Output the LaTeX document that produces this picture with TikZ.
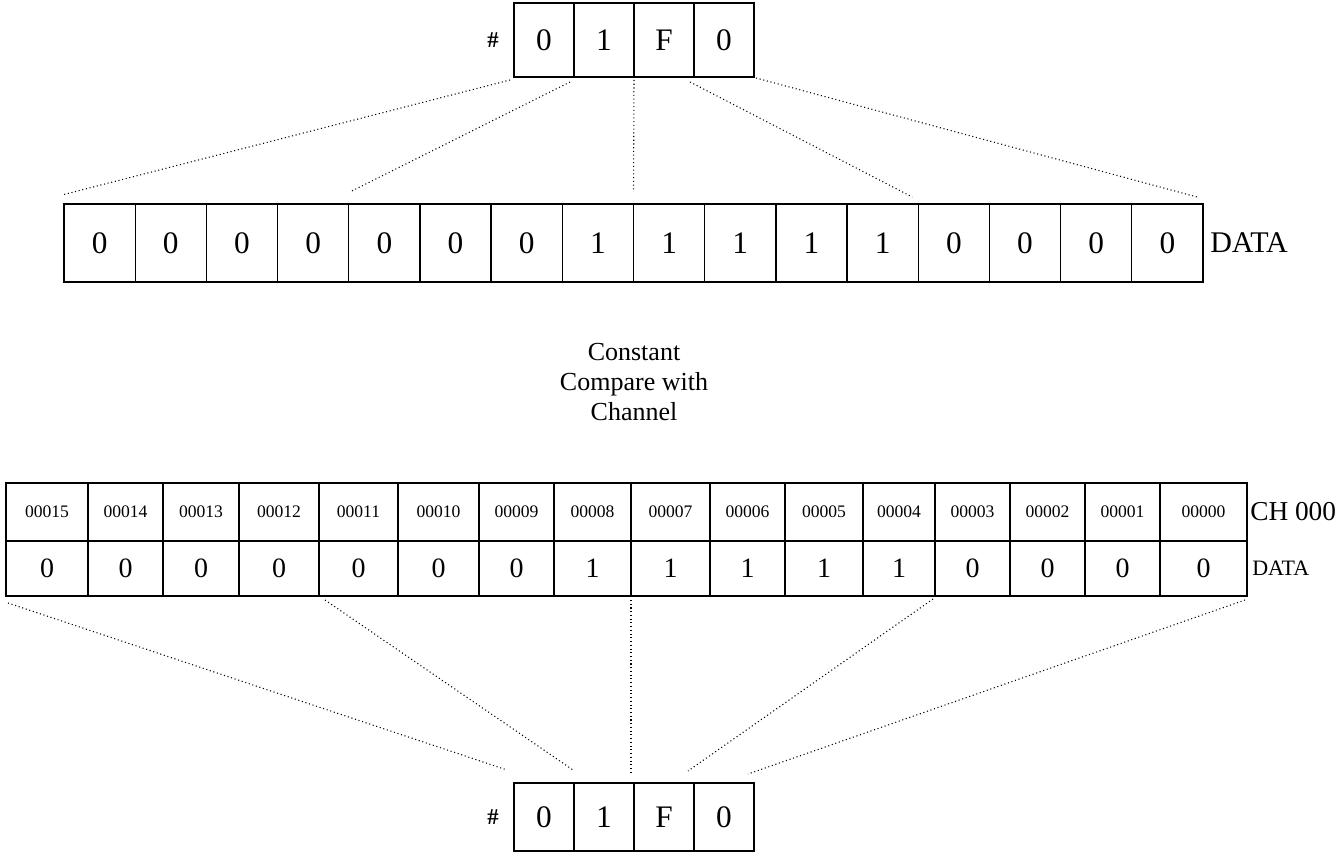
\documentclass[tikz,border=0pt]{standalone}
\usepackage{fontspec}
\setmainfont{Liberation Serif}
\usetikzlibrary{calc}
\begin{document}
\begin{tikzpicture}[x=0.75pt,y=-0.75pt,
  cell/.style={draw=black,line width=1pt,rectangle,inner sep=0pt,outer sep=0pt,anchor=center},
  big/.style={font=\fontsize{23.5}{27}\selectfont},
  mid/.style={font=\fontsize{21}{25}\selectfont},
  small/.style={font=\fontsize{13.2}{16}\selectfont},
  lab/.style={anchor=west,inner sep=0pt},
  hash/.style={font=\fontsize{17}{20}\selectfont\bfseries},
  dots/.style={line width=0.8pt,dotted}]
\useasboundingbox (0,0) rectangle (1335,852);

% top nibble box
\foreach \v [count=\i] in {0,1,F,0}
  \node[cell,big,minimum width=45pt,minimum height=55.5pt] (t\i) at ({514+60*\i-30},40) {\v};
\node[hash] (th) at (493,40) {\#};

% data row
\foreach \v [count=\i] in {0,0,0,0,0,0,0,1,1,1,1,1,0,0,0,0}
  \node[cell,big,minimum width=53.4pt,minimum height=58.5pt] (d\i) at ({64+71.1875*\i-35.594},243) {\v};
\node[lab,font=\fontsize{22.5}{26}\selectfont] (dl) at (1210,243) {DATA};

% connectors top
\draw[dots] ([shift={(-4,3)}]t1.south west) -- ([shift={(-2,-9)}]d1.north west);
\draw[dots] ([shift={(-4,5)}]t2.south west) -- ([shift={(1,-12)}]d5.north west);
\draw[dots] ([shift={(0,3)}]t3.south west) -- ([shift={(0,-12)}]d9.north west);
\draw[dots] ([shift={(-4,5)}]t4.south west) -- ([shift={(-6,-7)}]d13.north west);
\draw[dots] ([shift={(2,1)}]t4.south east) -- ([shift={(-6,-7)}]d16.north east);

% middle text
\node[align=center,font=\fontsize{19.5}{22.5}\selectfont] (txt) at (634,382) {Constant\\Compare with\\Channel};

% bottom table
\foreach \l/\r/\a/\v [count=\i] in {6/88/00015/0,88/163/00014/0,163/239/00013/0,239/319/00012/0,319/398/00011/0,398/479/00010/0,479/554/00009/0,554/631/00008/1,631/710/00007/1,710/785/00006/1,785/863/00005/1,863/935/00004/1,935/1010/00003/0,1010/1085/00002/0,1085/1160/00001/0,1160/1247/00000/0}{
  \node[cell,small,minimum width={(\r-\l)*0.75pt},minimum height=43.5pt] (a\i) at ({(\l+\r)/2},512) {\a};
  \node[cell,mid,minimum width={(\r-\l)*0.75pt},minimum height=41.25pt] (b\i) at ({(\l+\r)/2},568.5) {\v};
}
\node[lab,font=\fontsize{20.5}{24}\selectfont] (chl) at (1250,512) {CH 000};
\node[lab,font=\fontsize{16.5}{19}\selectfont] (dl2) at (1252,568) {DATA};

% bottom nibble box
\foreach \v [count=\i] in {0,1,F,0}
  \node[cell,big,minimum width=45pt,minimum height=51pt] (c\i) at ({514+60*\i-30},817) {\v};
\node[hash] (ch) at (493,817) {\#};

% connectors bottom
\draw[dots] ([shift={(2,7)}]b1.south west) -- ([shift={(-7,-13)}]c1.north west);
\draw[dots] ([shift={(6,4)}]b5.south west) -- ([shift={(-1,-13)}]c2.north west);
\draw[dots] ([shift={(0,4)}]b9.south west) -- ([shift={(-3,-11)}]c3.north west);
\draw[dots] ([shift={(-2,3)}]b13.south west) -- ([shift={(-6,-12)}]c4.north west);
\draw[dots] ([shift={(-2,4)}]b16.south east) -- ([shift={(-6,-9)}]c4.north east);
\end{tikzpicture}
\end{document}
